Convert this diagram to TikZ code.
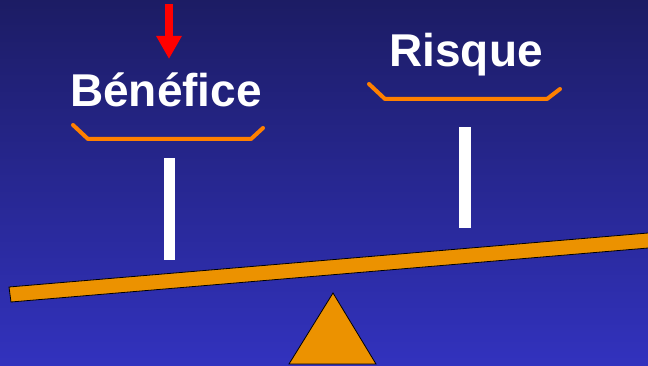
\documentclass[tikz,border=0pt]{standalone}
\usepackage{fontspec}
\setmainfont{Liberation Sans}
\usetikzlibrary{arrows.meta}

\definecolor{fondhaut}{RGB}{28,28,100}
\definecolor{fondbas}{RGB}{50,50,190}
\definecolor{bois}{RGB}{236,146,0}
\definecolor{plat}{RGB}{255,128,0}

\begin{document}
\begin{tikzpicture}[
  x=1pt, y=-1pt,
  poids/.style={text=white, font=\fontsize{46}{50}\selectfont\bfseries, inner sep=0pt, anchor=base},
  plateau/.style={draw=plat, line width=4pt, line cap=round, line join=round},
  tige/.style={fill=white},
  fleau/.style={fill=bois, draw=black, line width=0.8pt},
  fleche/.style={red, line width=8pt, -{Triangle[width=24pt,length=23pt]}}
]

\clip (0,0) rectangle (648,366);
\shade[top color=fondhaut, bottom color=fondbas] (0,0) rectangle (648,366);

% labels
\node[poids] (benefice) at (166,107) {Bénéfice};
\node[poids] (risque) at (466,67) {Risque};

% red arrow
\coordinate (flechehaut) at (169,4);
\coordinate (flechebas) at (169,59);
\draw[fleche] (flechehaut) -- (flechebas);

% plates
\draw[plateau] (73,125) -- (88,139) -- (251,139) -- (263,128);
\draw[plateau] (369,84) -- (385,99) -- (547,99) -- (560,89);

% rods
\fill[tige] (164,158) rectangle (175,260);
\fill[tige] (459,127) rectangle (471,228);

% beam and pivot
\draw[fleau] (9,287) -- (660,232) -- (660,247) -- (11,302) -- cycle;
\draw[fleau, line join=miter] (333,293) -- (376,364) -- (289,364) -- cycle;

\end{tikzpicture}
\end{document}
